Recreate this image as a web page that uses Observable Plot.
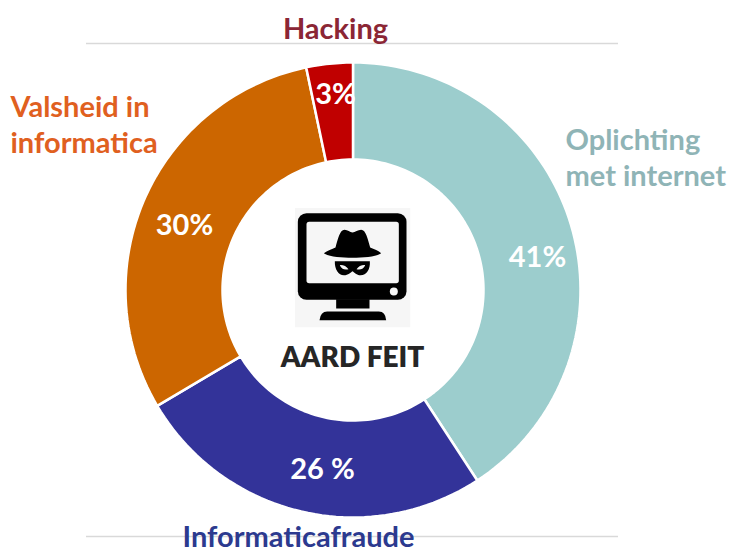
<!DOCTYPE html>
<html><head><meta charset="utf-8">
<script src="https://cdn.jsdelivr.net/npm/d3@7"></script>
<script src="https://cdn.jsdelivr.net/npm/@observablehq/plot@0.6"></script>
<style>html,body{margin:0;padding:0;background:#fff}svg{display:block}</style>
</head><body><div id="c"></div>
<script>
const categories = ["Oplichting met internet","Informaticafraude","Valsheid in informatica","Hacking"];
const values = [40.8,25.7,30.2,3.3];
const valueLabels = ["41%","26 %","30%","3%"];
const sliceColors = ["#9ccdcd","#333399","#cc6600","#c00000"];
const nameColors = ["#8fb4b6","#2c3a8f","#e0601f","#8b2635"];

const W=732,H=549,cx=352.5,cy=289.5,R=227.5,innerR=130.5;
// one data unit = one outer radius of the ring
const px=p=>(p-cx)/R, py=p=>(cy-p)/R;
const total=d3.sum(values);
let cum=0; const ring=[];
values.forEach((v,i)=>{
  const a0=cum/total*2*Math.PI, a1=(cum+v)/total*2*Math.PI; cum+=v;
  const n=Math.max(4,Math.ceil(v*2));
  const pts=[];
  for(let k=0;k<=n;k++){const a=a0+(a1-a0)*k/n; pts.push([Math.sin(a),Math.cos(a)]);}
  const r=innerR/R;
  for(let k=n;k>=0;k--){const a=a0+(a1-a0)*k/n; pts.push([r*Math.sin(a),r*Math.cos(a)]);}
  pts.forEach(([x,y])=>ring.push({x,y,cat:categories[i],color:sliceColors[i]}));
  ring.push({x:pts[0][0],y:pts[0][1],cat:categories[i],color:sliceColors[i]});
});

const icon=`<svg xmlns="http://www.w3.org/2000/svg" viewBox="42 35 348 360"><rect x="42" y="35" width="348" height="360" fill="#f6f6f6"/><rect x="52" y="52" width="326" height="260" rx="26" fill="#000"/><rect x="78" y="78" width="277" height="184" rx="8" fill="#f6f6f6"/><circle cx="340" cy="287" r="12" fill="#f6f6f6"/><rect x="167" y="310" width="100" height="28" fill="#000"/><path d="M117 373Q120 347 140 347H295Q315 347 317 373Z" fill="#000"/><path d="M130 172C140 165 155 160 165 155C172 130 178 102 192 102C202 102 208 110 216 110C224 110 232 102 242 102C256 102 262 130 269 155C280 160 295 165 302 172C290 182 250 186 216 186C182 186 142 182 130 172Z" fill="#000"/><path d="M163 196H268C270 220 258 238 240 238C228 238 222 230 216 226C210 230 204 238 190 238C174 238 162 220 163 196Z" fill="#000"/><path d="M178 208C188 207 198 212 204 220C192 224 182 218 178 208ZM254 208C244 207 234 212 228 220C240 224 250 218 254 208Z" fill="#f6f6f6"/></svg>`;
const iconSrc="data:image/svg+xml;utf8,"+encodeURIComponent(icon);

const font="Lato,sans-serif";
const t=(lines,xp,yp,fill,size,anchor,weight=700)=>Plot.text([lines],{x:()=>px(xp),y:()=>py(yp),text:d=>d,fill,fontSize:size,fontWeight:weight,textAnchor:anchor,lineAnchor:"middle",fontFamily:font,lineHeight:1.22});

const chart=Plot.plot({
  width:W,height:H,margin:0,
  x:{domain:[px(0),px(W)],axis:null},
  y:{domain:[py(H),py(0)],axis:null},
  marks:[
    Plot.ruleY([py(43),py(536)],{x1:px(86),x2:px(618),stroke:"#d9d9d9",strokeWidth:1.5}),
    Plot.line(ring,{x:"x",y:"y",z:"cat",fill:"color",stroke:"#fff",strokeWidth:2.5,strokeLinejoin:"miter"}),
    Plot.image([0],{x:()=>px(352),y:()=>py(267),src:()=>iconSrc,width:116,height:120}),
    t("AARD FEIT",352,356,"#262626",28,"middle",800),
    t(valueLabels[0],537,255,"#fff",29,"middle"),
    t(valueLabels[1],322,467,"#fff",29,"middle"),
    t(valueLabels[2],184,223,"#fff",29,"middle"),
    t(valueLabels[3],335,92,"#fff",29,"middle"),
    t("Hacking",335,27.5,nameColors[3],29,"middle"),
    t("Informaticafraude",298,535,nameColors[1],29,"middle"),
    t("Valsheid in\ninformatica",10,123,nameColors[2],29,"start"),
    t("Oplichting\nmet internet",565,156,nameColors[0],29,"start")
  ]
});
document.getElementById("c").append(chart);
</script></body></html>
